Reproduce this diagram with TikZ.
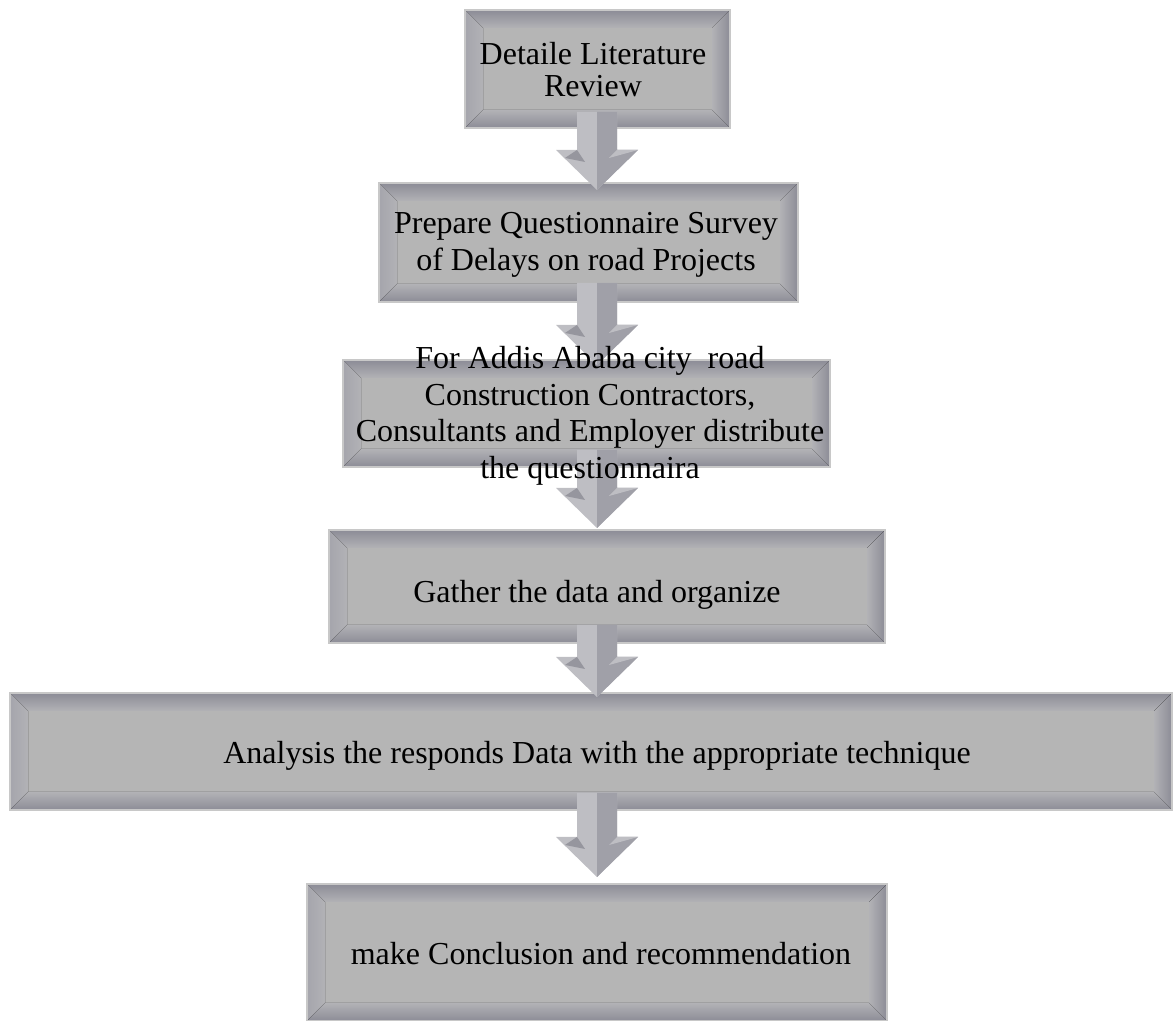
\documentclass[tikz,border=0pt]{standalone}
\usepackage{fontspec}
\setmainfont{Liberation Serif}
\usetikzlibrary{calc,backgrounds}
\pgfdeclarelayer{arrowlayer}
\pgfsetlayers{background,arrowlayer,main}
\definecolor{facegray}{RGB}{181,181,181}
\definecolor{bevdark}{RGB}{140,140,150}
\definecolor{bevmid}{RGB}{165,165,172}
\definecolor{bevlight}{RGB}{178,178,182}
\definecolor{edgegray}{RGB}{200,200,200}
\definecolor{arrlight}{RGB}{190,190,195}
\definecolor{arrdark}{RGB}{160,160,168}
\definecolor{arrshadow}{RGB}{150,150,158}
\tikzset{
  boxnode/.style={inner sep=0pt, outer sep=0pt, draw=none},
  lbl/.style={font=\fontsize{16}{18.5}\selectfont, align=center, inner sep=0pt, text=black},
}
\newcommand\drawbevel[1]{%
  \fill[facegray] (#1.north west) rectangle (#1.south east);
  \fill[top color=bevdark, bottom color=bevlight]
    (#1.north west) -- (#1.north east) -- ($(#1.north east)+(-9pt,-9pt)$) -- ($(#1.north west)+(9pt,-9pt)$) -- cycle;
  \fill[left color=bevmid, right color=bevlight]
    (#1.north west) -- ($(#1.north west)+(9pt,-9pt)$) -- ($(#1.south west)+(9pt,9pt)$) -- (#1.south west) -- cycle;
  \fill[left color=bevlight, right color=bevdark]
    (#1.north east) -- ($(#1.north east)+(-9pt,-9pt)$) -- ($(#1.south east)+(-9pt,9pt)$) -- (#1.south east) -- cycle;
  \fill[top color=bevlight, bottom color=bevdark]
    (#1.south west) -- ($(#1.south west)+(9pt,9pt)$) -- ($(#1.south east)+(-9pt,9pt)$) -- (#1.south east) -- cycle;
  \draw[edgegray, line width=0.8pt] (#1.north west) rectangle (#1.south east);
}
% #1 from node, #2 to node, #3 start offset (up), #4 tip offset (up, negative = into target)
\newcommand\flowarrow[4]{%
  \fill[arrlight] let \p1=($(#1.south -| ax)+(0,#3)$), \p2=($(#2.north -| ax)+(0,#4)$) in
    (\x1-10pt,\y1) -- (\x1+10pt,\y1) -- (\x1+10pt,\y2+20pt) -- (\x1+20.5pt,\y2+20pt)
    -- (\x1,\y2) -- (\x1-20.5pt,\y2+20pt) -- (\x1-10pt,\y2+20pt) -- cycle;
  \fill[arrdark] let \p1=($(#1.south -| ax)+(0,#3)$), \p2=($(#2.north -| ax)+(0,#4)$) in
    (\x1,\y1) -- (\x1+10pt,\y1) -- (\x1+10pt,\y2+20pt) -- (\x1+20.5pt,\y2+20pt)
    -- (\x1,\y2) -- cycle;
  \fill[arrshadow] let \p1=($(#1.south -| ax)+(0,#3)$), \p2=($(#2.north -| ax)+(0,#4)$) in
    (\x1-10pt,\y2+20pt) -- (\x1-16pt,\y2+16pt) -- (\x1-6pt,\y2+14pt) -- cycle;
  \fill[arrlight] let \p1=($(#1.south -| ax)+(0,#3)$), \p2=($(#2.north -| ax)+(0,#4)$) in
    (\x1+10pt,\y2+20pt) -- (\x1+20.5pt,\y2+20pt) -- (\x1+6pt,\y2+16pt) -- cycle;
}
\begin{document}
\begin{tikzpicture}[x=0.5pt, y=-0.5pt]
\useasboundingbox (0,0) rectangle (1175,1021);
\coordinate (ax) at (597,0);
% boxes
\node[boxnode, minimum width=132.5pt, minimum height=59pt]   (b1) at (597.5,69)   {};
\node[boxnode, minimum width=209.5pt, minimum height=59.5pt] (b2) at (588.5,242.5) {};
\node[boxnode, minimum width=243.5pt, minimum height=53.5pt] (b3) at (586.5,413.5) {};
\node[boxnode, minimum width=278pt,   minimum height=56.5pt] (b4) at (607,586.5)   {};
\node[boxnode, minimum width=581pt,   minimum height=58.5pt] (b5) at (591,751.5)   {};
\node[boxnode, minimum width=290pt,   minimum height=68.5pt] (b6) at (597,952.5)   {};
% labels
\node[lbl, font=\fontsize{16}{16}\selectfont] (t1) at (593,70) {Detaile Literature\\Review};
\node[lbl] (t2) at (586,245) {Prepare Questionnaire Survey\\of Delays on road Projects};
\node[lbl, font=\fontsize{16}{18.25}\selectfont] (t3) at (590,416) {For Addis Ababa city\ \ road\\Construction Contractors,\\Consultants and Employer distribute\\the questionnaira};
\node[lbl] (t4) at (597,595) {Gather the data and organize};
\node[lbl] (t5) at (597,756) {Analysis the responds Data with the appropriate technique};
\node[lbl] (t6) at (601,954) {make Conclusion and recommendation};
\begin{pgfonlayer}{background}
  \foreach \b in {b1,b2,b3,b4,b5,b6} {\drawbevel{\b}}
\end{pgfonlayer}
\begin{pgfonlayer}{arrowlayer}
  \flowarrow{b1}{b2}{8pt}{-3.5pt}
  \flowarrow{b2}{b3}{9.5pt}{-2.5pt}
  \flowarrow{b3}{b4}{8.5pt}{1pt}
  \flowarrow{b4}{b5}{9pt}{-2pt}
  \flowarrow{b5}{b6}{8.5pt}{3.5pt}
\end{pgfonlayer}
\end{tikzpicture}
\end{document}
